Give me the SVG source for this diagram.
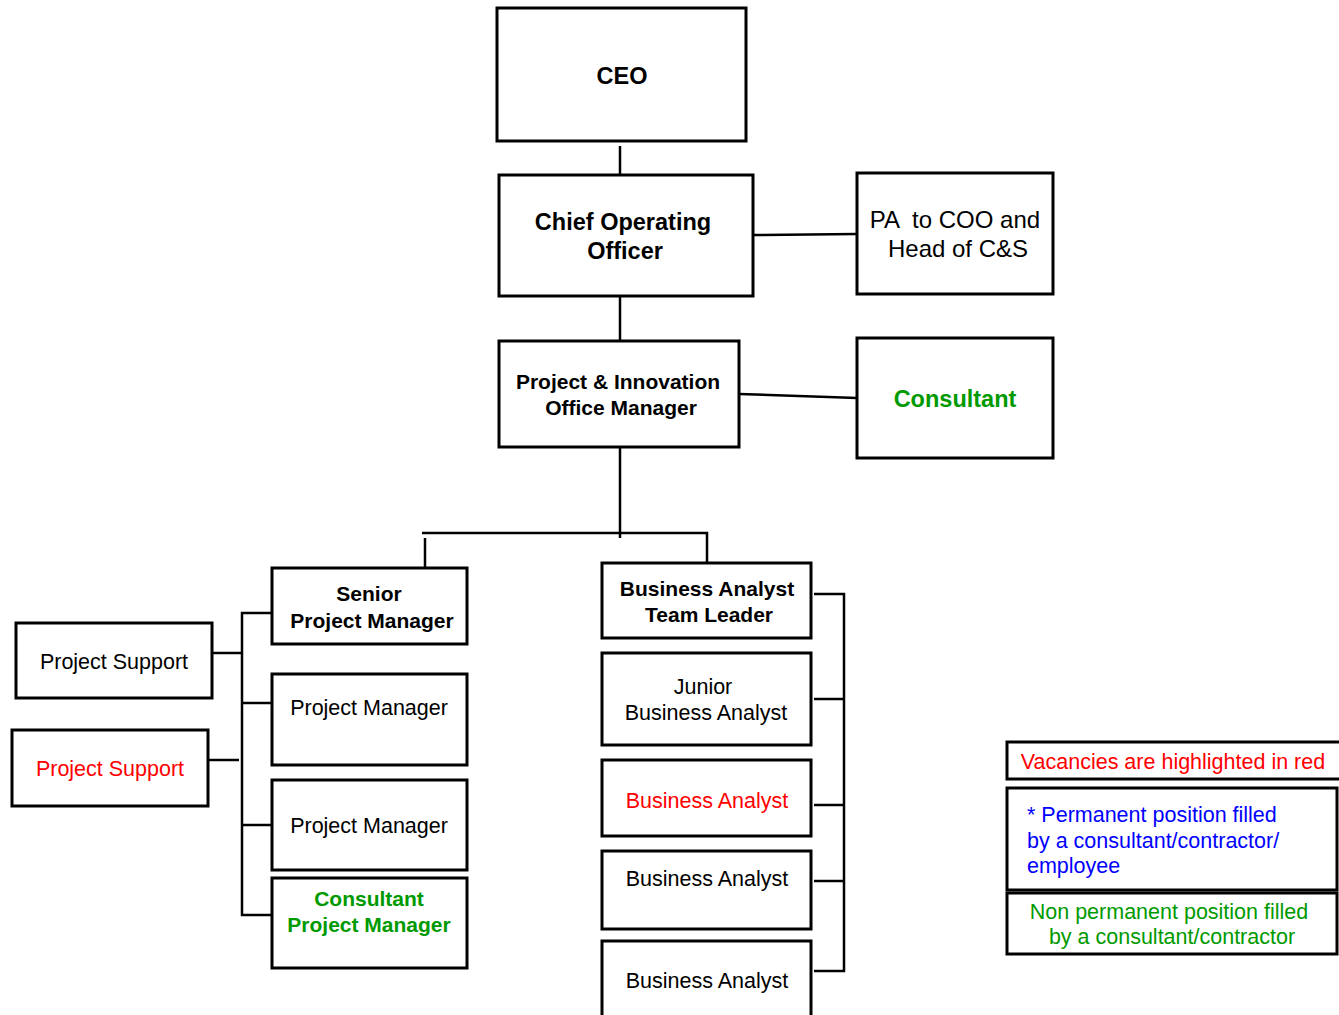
<svg xmlns="http://www.w3.org/2000/svg" width="1339" height="1015" viewBox="0 0 1339 1015">
<style>
rect{fill:#fff;stroke:#000;stroke-width:3}
text{font-family:"Liberation Sans",Arial,sans-serif;text-anchor:middle;fill:#000;font-size:21.5px}
.b{font-weight:bold;font-size:21px}
.big{font-size:23.5px}
.pa{font-size:24px}
.red{fill:#ff0000}
.grn{fill:#009a00}
.blu{fill:#0000ff;text-anchor:start}
.lg{font-size:21.5px}
#connectors line,#connectors polyline{stroke:#000;stroke-width:2.5;fill:none}
</style>
<rect x="0" y="0" width="1339" height="1015" style="stroke:none"/>
<g id="connectors">
<line x1="620" y1="146" x2="620" y2="175"/>
<line x1="753" y1="235" x2="857" y2="234"/>
<line x1="620" y1="296" x2="620" y2="341"/>
<line x1="739" y1="394" x2="857" y2="398"/>
<line x1="620" y1="447" x2="620" y2="538"/>
<polyline points="422,533 707,533 707,563"/>
<line x1="425" y1="538" x2="425" y2="568"/>
<polyline points="272,613 242,613 242,915 272,915"/>
<line x1="242" y1="703" x2="272" y2="703"/>
<line x1="242" y1="825" x2="272" y2="825"/>
<line x1="212" y1="653" x2="242" y2="653"/>
<line x1="208" y1="760" x2="239" y2="760"/>
<polyline points="814,594 844,594 844,971 814,971"/>
<line x1="814" y1="699" x2="844" y2="699"/>
<line x1="814" y1="805" x2="844" y2="805"/>
<line x1="814" y1="881" x2="844" y2="881"/>
</g>
<g id="ceo"><rect x="497" y="8" width="249" height="133"/><text class="b big" x="622" y="84">CEO</text></g>
<g id="coo"><rect x="499" y="175" width="254" height="121"/><text class="b big" x="623" y="230">Chief Operating</text><text class="b big" x="625" y="259">Officer</text></g>
<g id="pa"><rect x="857" y="173" width="196" height="121"/><text class="pa" x="955" y="228" xml:space="preserve">PA  to COO and</text><text class="pa" x="958" y="257">Head of C&amp;S</text></g>
<g id="piom"><rect x="499" y="341" width="240" height="106"/><text class="b" x="618" y="389">Project &amp; Innovation</text><text class="b" x="621" y="415">Office Manager</text></g>
<g id="consultant"><rect x="857" y="338" width="196" height="120"/><text class="b big grn" x="955" y="407">Consultant</text></g>
<g id="spm"><rect x="272" y="568" width="195" height="76"/><text class="b" x="369" y="601">Senior</text><text class="b" x="372" y="628">Project Manager</text></g>
<g id="pm1"><rect x="272" y="674" width="195" height="91"/><text x="369" y="715">Project Manager</text></g>
<g id="pm2"><rect x="272" y="780" width="195" height="90"/><text x="369" y="833">Project Manager</text></g>
<g id="cpm"><rect x="272" y="878" width="195" height="90"/><text class="b grn" x="369" y="906">Consultant</text><text class="b grn" x="369" y="932">Project Manager</text></g>
<g id="ps1"><rect x="16" y="623" width="196" height="75"/><text x="114" y="669">Project Support</text></g>
<g id="ps2"><rect x="12" y="730" width="196" height="76"/><text class="red" x="110" y="776">Project Support</text></g>
<g id="batl"><rect x="602" y="563" width="209" height="75"/><text class="b" x="707" y="596">Business Analyst</text><text class="b" x="709" y="622">Team Leader</text></g>
<g id="jba"><rect x="602" y="653" width="209" height="92"/><text x="703" y="694">Junior</text><text x="706" y="720">Business Analyst</text></g>
<g id="ba1"><rect x="602" y="760" width="209" height="76"/><text class="red" x="707" y="808">Business Analyst</text></g>
<g id="ba2"><rect x="602" y="851" width="209" height="78"/><text x="707" y="886">Business Analyst</text></g>
<g id="ba3"><rect x="602" y="941" width="209" height="80"/><text x="707" y="988">Business Analyst</text></g>
<g id="legend-vacancies"><rect x="1007" y="742" width="334" height="37"/><text class="lg red" x="1173" y="769">Vacancies are highlighted in red</text></g>
<g id="legend-permanent"><rect x="1007" y="788" width="330" height="102"/><text class="lg blu" x="1027" y="822">* Permanent position filled</text><text class="lg blu" x="1027" y="848">by a consultant/contractor/</text><text class="lg blu" x="1027" y="873">employee</text></g>
<g id="legend-nonpermanent"><rect x="1007" y="893" width="330" height="61"/><text class="lg grn" x="1169" y="919">Non permanent position filled</text><text class="lg grn" x="1172" y="944">by a consultant/contractor</text></g>
</svg>
